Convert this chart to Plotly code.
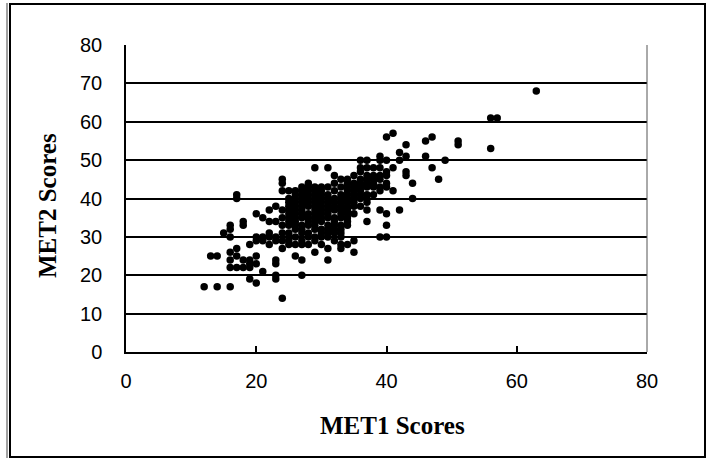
import plotly.graph_objects as go

# MET1 score of each student (x) and the matching MET2 score (y), grouped by MET1 value
met1_scores = [
    12,
    13,
    14, 14,
    15,
    16, 16, 16, 16, 16, 16, 16,
    17, 17, 17, 17, 17,
    18, 18, 18, 18,
    19, 19, 19, 19, 19,
    20, 20, 20, 20, 20, 20,
    21, 21, 21, 21,
    22, 22, 22, 22, 22,
    23, 23, 23, 23, 23, 23, 23, 23,
    24, 24, 24, 24, 24, 24, 24, 24, 24, 24,
    25, 25, 25, 25, 25, 25, 25, 25, 25, 25, 25, 25, 25,
    26, 26, 26, 26, 26, 26, 26, 26, 26, 26, 26, 26, 26, 26,
    27, 27, 27, 27, 27, 27, 27, 27, 27, 27, 27, 27, 27, 27, 27, 27,
    28, 28, 28, 28, 28, 28, 28, 28, 28, 28, 28, 28, 28, 28,
    29, 29, 29, 29, 29, 29, 29, 29, 29, 29, 29, 29, 29, 29, 29, 29,
    30, 30, 30, 30, 30, 30, 30, 30, 30, 30, 30, 30, 30, 30,
    31, 31, 31, 31, 31, 31, 31, 31, 31, 31, 31, 31, 31, 31, 31,
    32, 32, 32, 32, 32, 32, 32, 32, 32, 32, 32, 32, 32,
    33, 33, 33, 33, 33, 33, 33, 33, 33, 33, 33, 33, 33, 33, 33,
    34, 34, 34, 34, 34, 34, 34, 34, 34, 34, 34, 34, 34, 34,
    35, 35, 35, 35, 35, 35, 35, 35, 35, 35, 35,
    36, 36, 36, 36, 36, 36, 36, 36, 36, 36,
    37, 37, 37, 37, 37, 37, 37, 37, 37, 37, 37,
    38, 38, 38, 38, 38, 38,
    39, 39, 39, 39, 39, 39, 39, 39, 39,
    40, 40, 40, 40, 40, 40, 40, 40, 40,
    41, 41, 41,
    42, 42, 42,
    43, 43, 43, 43,
    44, 44,
    46, 46,
    47, 47,
    48,
    49,
    51, 51,
    56, 56,
    57,
    63,
]
met2_scores = [
    17,
    25,
    17, 25,
    31,
    17, 22, 24, 26, 30, 32, 33,
    22, 25, 27, 40, 41,
    22, 24, 33, 34,
    19, 22, 23, 24, 28,
    18, 23, 25, 29, 30, 36,
    21, 29, 30, 35,
    28, 30, 31, 34, 37,
    19, 20, 23, 24, 29, 30, 34, 38,
    14, 27, 29, 31, 33, 35, 37, 42, 44, 45,
    28, 29, 30, 31, 33, 34, 35, 36, 37, 38, 39, 40, 42,
    25, 28, 30, 32, 33, 34, 35, 36, 37, 38, 39, 40, 41, 42,
    20, 24, 28, 29, 31, 32, 33, 35, 36, 37, 38, 39, 40, 41, 42, 43,
    28, 30, 31, 33, 34, 35, 36, 38, 39, 40, 41, 42, 43, 44,
    26, 29, 30, 32, 33, 34, 35, 36, 37, 38, 39, 40, 41, 42, 43, 48,
    28, 30, 31, 32, 34, 35, 36, 37, 38, 39, 40, 41, 42, 43,
    24, 27, 30, 31, 32, 33, 35, 36, 37, 38, 39, 40, 41, 43, 48,
    29, 31, 32, 33, 34, 35, 37, 38, 39, 40, 42, 44, 46,
    27, 28, 30, 31, 32, 33, 35, 36, 37, 38, 39, 40, 41, 43, 45,
    28, 33, 34, 35, 36, 37, 38, 39, 40, 41, 42, 43, 44, 45,
    26, 29, 36, 38, 39, 40, 41, 42, 43, 44, 46,
    38, 40, 41, 42, 43, 44, 45, 47, 48, 50,
    34, 37, 39, 40, 41, 43, 44, 45, 46, 48, 50,
    41, 43, 44, 45, 46, 48,
    30, 37, 42, 43, 45, 46, 48, 50, 51,
    30, 33, 36, 43, 44, 46, 47, 50, 56,
    42, 48, 57,
    37, 50, 52,
    46, 47, 51, 54,
    40, 44,
    51, 55,
    48, 56,
    45,
    50,
    54, 55,
    53, 61,
    61,
    68,
]

x_ticks = [0, 20, 40, 60, 80]
y_ticks = [0, 10, 20, 30, 40, 50, 60, 70, 80]
x_title = "MET1 Scores"
y_title = "MET2 Scores"

W, H = 709, 461
L, R, T, B = 126, 62, 45, 109
pw, ph = W - L - R, H - T - B


def px_x(px):
    return (px - L) / pw


def px_y(py):
    return (H - B - py) / ph


fig = go.Figure()
fig.add_trace(go.Scatter(
    x=met1_scores, y=met2_scores, mode="markers",
    marker=dict(color="black", size=7.5, line=dict(width=0)),
    showlegend=False, hoverinfo="x+y",
))

tick_font = dict(family="Liberation Sans, Arial, sans-serif", size=20, color="black")
title_font = dict(family="Liberation Serif, Times New Roman, serif", size=25, color="black")

fig.update_layout(
    width=W, height=H,
    margin=dict(l=L, r=R, t=T, b=B, pad=0),
    paper_bgcolor="white", plot_bgcolor="white",
    xaxis=dict(
        range=[0, 80], tickvals=x_ticks, ticktext=[str(v) for v in x_ticks],
        showgrid=False, zeroline=False,
        showline=True, linecolor="black", linewidth=1.5,
        ticks="inside", ticklen=6, tickwidth=1.5, tickcolor="black",
        tickfont=tick_font, ticklabelstandoff=10,
    ),
    yaxis=dict(
        range=[0, 80], tickvals=y_ticks, ticktext=[str(v) for v in y_ticks],
        showgrid=True, gridcolor="black", gridwidth=1.5, zeroline=False,
        showline=True, linecolor="black", linewidth=1.5,
        ticks="", tickfont=tick_font, ticklabelstandoff=18,
    ),
    annotations=[
        dict(text="<b>%s</b>" % x_title, x=px_x(392), y=px_y(425), xref="paper", yref="paper",
             xanchor="center", yanchor="middle", showarrow=False, font=title_font),
        dict(text="<b>%s</b>" % y_title, x=px_x(47), y=px_y(206), xref="paper", yref="paper",
             xanchor="center", yanchor="middle", showarrow=False, textangle=-90, font=title_font),
    ],
    shapes=[
        # right edge of plot area
        dict(type="line", xref="paper", yref="paper", x0=1, x1=1, y0=0, y1=1,
             line=dict(color="#555555", width=1)),
        # outer chart frame
        dict(type="rect", xref="paper", yref="paper",
             x0=px_x(10), x1=px_x(705), y0=px_y(457), y1=px_y(4),
             line=dict(color="black", width=2)),
        dict(type="line", xref="paper", yref="paper",
             x0=px_x(7), x1=px_x(7), y0=px_y(458), y1=px_y(3),
             line=dict(color="#444444", width=1)),
    ],
)

fig.write_html("out.html", config={"displayModeBar": False},
               post_script="document.body.style.margin='0';")
